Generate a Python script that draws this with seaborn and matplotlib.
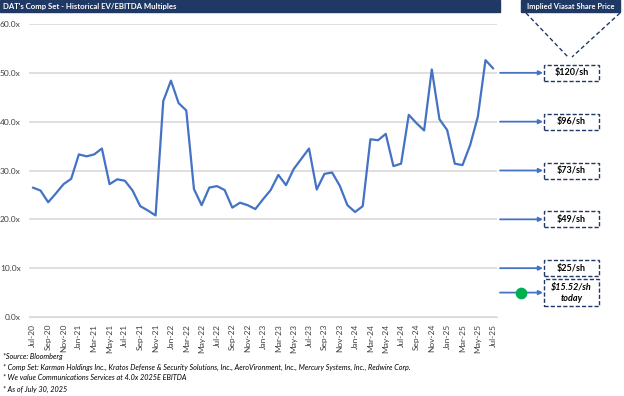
import matplotlib
matplotlib.use("Agg")
import matplotlib.pyplot as plt
import matplotlib.transforms as mtrans
from matplotlib.patches import Rectangle
import seaborn as sns
import pandas as pd
import numpy as np

months = pd.date_range("2020-07-01", "2025-07-01", freq="MS")
multiples = [26.5, 25.9, 23.5, 25.3, 27.2, 28.3, 33.3, 32.9, 33.3, 34.5,
             27.2, 28.2, 27.9, 25.9, 22.7, 21.8, 20.8, 44.2, 48.4, 43.8,
             42.3, 26.2, 22.9, 26.5, 26.8, 26.0, 22.4, 23.4, 22.9, 22.1,
             24.1, 26.0, 29.1, 27.0, 30.3, 32.4, 34.5, 26.1, 29.3, 29.6,
             26.9, 22.9, 21.5, 22.7, 36.4, 36.2, 37.5, 30.9, 31.4, 41.4,
             39.7, 38.2, 50.7, 40.5, 38.3, 31.4, 31.1, 35.2, 41.0, 52.6, 50.9]
month_labels = [d.strftime("%b-%y") for d in months]
price_levels = [50, 40, 30, 20, 10, 5]
price_labels = ["$120/sh", "$96/sh", "$73/sh", "$49/sh", "$25/sh", "$15.52/sh\ntoday"]
current_multiple = 5.0
yticks = [0, 10, 20, 30, 40, 50, 60]
footnotes = ["*Source: Bloomberg",
             "* Comp Set: Karman Holdings Inc., Kratos Defense & Security Solutions, Inc., AeroVironment, Inc., Mercury Systems, Inc., Redwire Corp.",
             "* We value Communications Services at 4.0x 2025E EBITDA",
             "* As of July 30, 2025"]
title = "DAT's Comp Set - Historical EV/EBITDA Multiples"
right_title = "Implied Viasat Share Price"

sns.set_style("white")
plt.rcParams["font.family"] = ["Lato", "DejaVu Sans"]

W, H = 624, 396
fig = plt.figure(figsize=(W / 100, H / 100), dpi=100)

def fx(x):
    return x / W

def fy(y):
    return 1 - y / H

ax = fig.add_axes([fx(29), fy(317), fx(497) - fx(29), fy(24) - fy(317)])

df = pd.DataFrame({"idx": np.arange(len(multiples)), "mult": multiples})
sns.lineplot(data=df, x="idx", y="mult", ax=ax, color="#4472C4", linewidth=1.6)

ax.set_xlim(-0.5, len(multiples) - 0.5)
ax.set_ylim(0, 60)
ax.set_yticks(yticks)
ax.set_yticklabels([f"{v:.1f}x" for v in yticks], fontsize=6, color="#404040")
ax.yaxis.grid(True, color="#D9D9D9", linewidth=1.2)
ax.set_axisbelow(True)
tick_pos = list(range(0, len(multiples), 2))
ax.set_xticks(tick_pos)
ax.set_xticklabels([month_labels[i] for i in tick_pos], rotation=90, fontsize=6, color="#404040")
ax.tick_params(axis="x", length=3, color="#D9D9D9", pad=2)
ax.tick_params(axis="y", length=0, pad=6)
ax.set_xlabel("")
ax.set_ylabel("")
for s in ["top", "right", "left"]:
    ax.spines[s].set_visible(False)
ax.spines["bottom"].set_color("#D9D9D9")

navy = "#1F3864"
# title bars
fig.patches.append(Rectangle((fx(0), fy(12)), fx(500), fy(0) - fy(12), transform=fig.transFigure,
                             color=navy, zorder=0))
fig.text(fx(3), fy(6), title, color="white", fontsize=5.6, fontweight="bold", va="center", ha="left")
fig.patches.append(Rectangle((fx(521), fy(12)), fx(620) - fx(521), fy(0) - fy(12),
                             transform=fig.transFigure, color=navy, zorder=0))
fig.text(fx(570.5), fy(6), right_title, color="white", fontsize=5.4, fontweight="bold",
         va="center", ha="center")

# dashed funnel lines
fig.add_artist(plt.Line2D([fx(526), fx(568)], [fy(13), fy(57)], transform=fig.transFigure,
                          color=navy, linestyle=(0, (3, 2)), linewidth=1))
fig.add_artist(plt.Line2D([fx(620), fx(572)], [fy(13), fy(57)], transform=fig.transFigure,
                          color=navy, linestyle=(0, (3, 2)), linewidth=1))

# arrows and boxes
bt = mtrans.blended_transform_factory(fig.transFigure, ax.transData)
for lvl, lab in zip(price_levels, price_labels):
    ax.annotate("", xy=(fx(543), lvl), xycoords=bt, xytext=(fx(500), lvl), textcoords=bt,
                arrowprops=dict(arrowstyle="-|>", color="#4472C4", lw=1.3,
                                mutation_scale=6, shrinkA=0, shrinkB=0),
                annotation_clip=False)
    two = "\n" in lab
    hpx = 27 if two else 16
    yc = ax.transData.transform((0, lvl))[1]
    y0 = yc - hpx / 2
    rect = Rectangle((fx(544), y0 / H), fx(599) - fx(544), hpx / H, transform=fig.transFigure,
                     fill=False, edgecolor=navy, linestyle=(0, (3, 1.5)), linewidth=1)
    fig.patches.append(rect)
    fig.text(fx(571.5), yc / H, lab, ha="center", va="center", fontsize=6.5,
             fontweight="bold", color="black", style="italic" if two else "normal",
             linespacing=1.3)

ax.scatter([fx(521)], [current_multiple], transform=bt, s=55, color="#00B050",
           clip_on=False, zorder=5)

for i, t in enumerate(footnotes):
    fig.text(fx(3), fy(356 + i * 11), t, fontsize=5.2, style="italic", color="black",
             va="center", ha="left")

fig.savefig("out.png", dpi=100)
